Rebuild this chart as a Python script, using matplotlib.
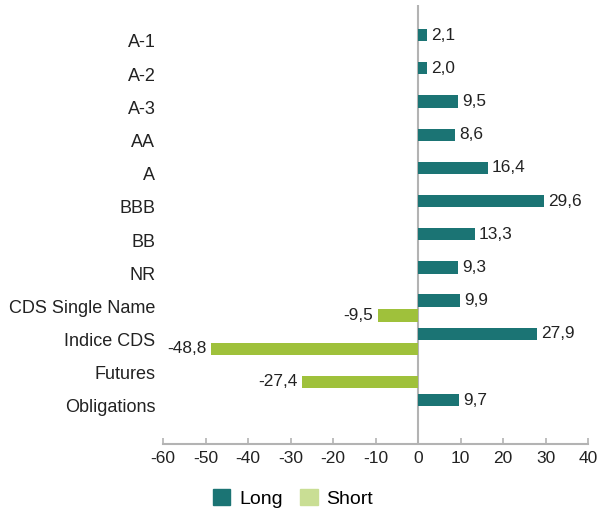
import numpy as np
import matplotlib.pyplot as plt
from matplotlib.patches import Patch

plt.rcParams["font.family"] = ["Liberation Sans", "DejaVu Sans"]

# ---------- data ----------
categories = ["A-1", "A-2", "A-3", "AA", "A", "BBB", "BB", "NR",
              "CDS Single Name", "Indice CDS", "Futures", "Obligations"]
long_vals = [2.1, 2.0, 9.5, 8.6, 16.4, 29.6, 13.3, 9.3, 9.9, 27.9, np.nan, 9.7]
short_vals = [np.nan, np.nan, np.nan, np.nan, np.nan, np.nan, np.nan, np.nan,
              -9.5, -48.8, -27.4, np.nan]

LONG_C = "#1b7474"
SHORT_C = "#9fc13b"
SHORT_LEG = "#c9de94"
GRID_C = "#b3b3b3"
TXT_C = "#222222"

def fmt(v):
    return f"{v:.1f}".replace(".", ",")

# ---------- figure ----------
fig = plt.figure(figsize=(5.98, 5.11), dpi=100)
ax = fig.add_axes([0.2726, 0.131, 0.7107, 0.859])

y = np.arange(len(categories))
off = 0.225
h = 0.37

for i, v in enumerate(long_vals):
    if np.isnan(v):
        continue
    ax.barh(y[i] - off, v, height=h, color=LONG_C)
    ax.text(v + 1.0, y[i] - off, fmt(v), va="center", ha="left",
            fontsize=12.4, color=TXT_C)

for i, v in enumerate(short_vals):
    if np.isnan(v):
        continue
    ax.barh(y[i] + off, v, height=h, color=SHORT_C)
    ax.text(v - 1.0, y[i] + off, fmt(v), va="center", ha="right",
            fontsize=12.4, color=TXT_C)

ax.set_xlim(-60, 40)
ax.set_ylim(len(categories) - 1 + 1.1, -1.13)
ax.set_xticks(np.arange(-60, 41, 10))
ax.set_xticklabels([str(t) for t in range(-60, 41, 10)], fontsize=12.5, color=TXT_C)
ax.set_yticks(y - 0.05)
ax.set_yticklabels(categories, fontsize=13, color=TXT_C)

ax.axvline(0, color=GRID_C, lw=1.5, zorder=0)
for s in ["top", "right", "left"]:
    ax.spines[s].set_visible(False)
ax.spines["bottom"].set_color(GRID_C)
ax.spines["bottom"].set_linewidth(1.5)
ax.tick_params(axis="x", direction="in", length=4, width=1.2, color=GRID_C, pad=5)
ax.tick_params(axis="y", length=0, pad=5.5)

handles = [Patch(color=LONG_C, label="Long"), Patch(color=SHORT_LEG, label="Short")]
fig.legend(handles=handles, loc="center", bbox_to_anchor=(0.49, 0.025), ncol=2,
           frameon=False, fontsize=14, handlelength=0.9, handleheight=0.9,
           columnspacing=0.9, handletextpad=0.45)

fig.savefig("out.png", dpi=100)
